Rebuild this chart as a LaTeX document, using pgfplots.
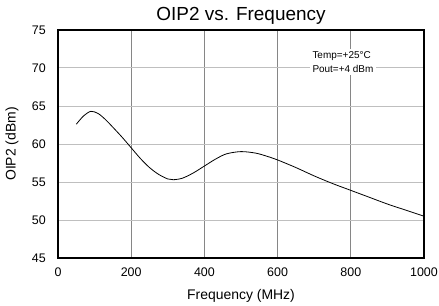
\documentclass[border=0pt]{standalone}
\usepackage{pgfplots}
\pgfplotsset{compat=1.18}
\usepackage{fontspec}
\setmainfont{Liberation Sans}
\begin{document}
\begin{tikzpicture}
\useasboundingbox (-58bp,-48bp) rectangle (381bp,258bp);
\begin{axis}[
  at={(0,0)}, anchor=south west,
  scale only axis,
  width=366bp, height=228bp,
  xmin=0, xmax=1000, ymin=45, ymax=75,
  xtick={0,200,...,1000}, ytick={45,50,...,75},
  grid=major,
  x grid style={gray!95, line width=0.8pt},
  y grid style={gray!50, line width=1pt},
  axis line style={black, line width=1.1pt},
  major tick length=0pt,
  tick label style={font=\fontsize{12.5}{14}\selectfont, inner sep=0pt},
  xticklabel style={anchor=center, yshift=-14bp},
  yticklabel style={anchor=east, xshift=-12bp},
  /pgf/number format/assume math mode=true,
  /pgf/number format/1000 sep={},
  title={OIP2 vs. Frequency},
  every axis title/.style={font=\fontsize{19}{22}\selectfont, at={(axis description cs:0.5,1)}, anchor=center, yshift=14bp, inner sep=0pt},
  xlabel={Frequency (MHz)},
  ylabel={OIP2 (dBm)},
  every axis x label/.style={font=\fontsize{14}{16}\selectfont, inner sep=0pt, at={(axis description cs:0.5,0)}, anchor=center, yshift=-38bp},
  every axis y label/.style={font=\fontsize{14}{16}\selectfont, inner sep=0pt, at={(axis description cs:0,0.5)}, anchor=center, rotate=90, yshift=46bp},
  clip=false,
]
\addplot[black, line width=0.8pt, smooth] coordinates {
(50,62.6) (70,63.7) (90,64.3) (110,64.0) (130,63.2) (150,62.2) (175,60.9)
(200,59.5) (225,58.1) (250,56.9) (275,56.0) (300,55.4) (315,55.3) (340,55.5)
(370,56.2) (400,57.1) (430,58.0) (460,58.7) (500,59.0) (540,58.8) (570,58.4)
(600,57.9) (650,56.9) (700,55.8) (750,54.8) (800,53.9) (850,53.0) (900,52.1)
(950,51.3) (1000,50.5)
};
\node[fill=white, inner sep=2.5pt, anchor=west, font=\fontsize{10}{14}\selectfont, align=left] at (axis cs:688,70.8) {Temp=+25\textdegree C\\Pout=+4 dBm};
\end{axis}
\end{tikzpicture}
\end{document}
